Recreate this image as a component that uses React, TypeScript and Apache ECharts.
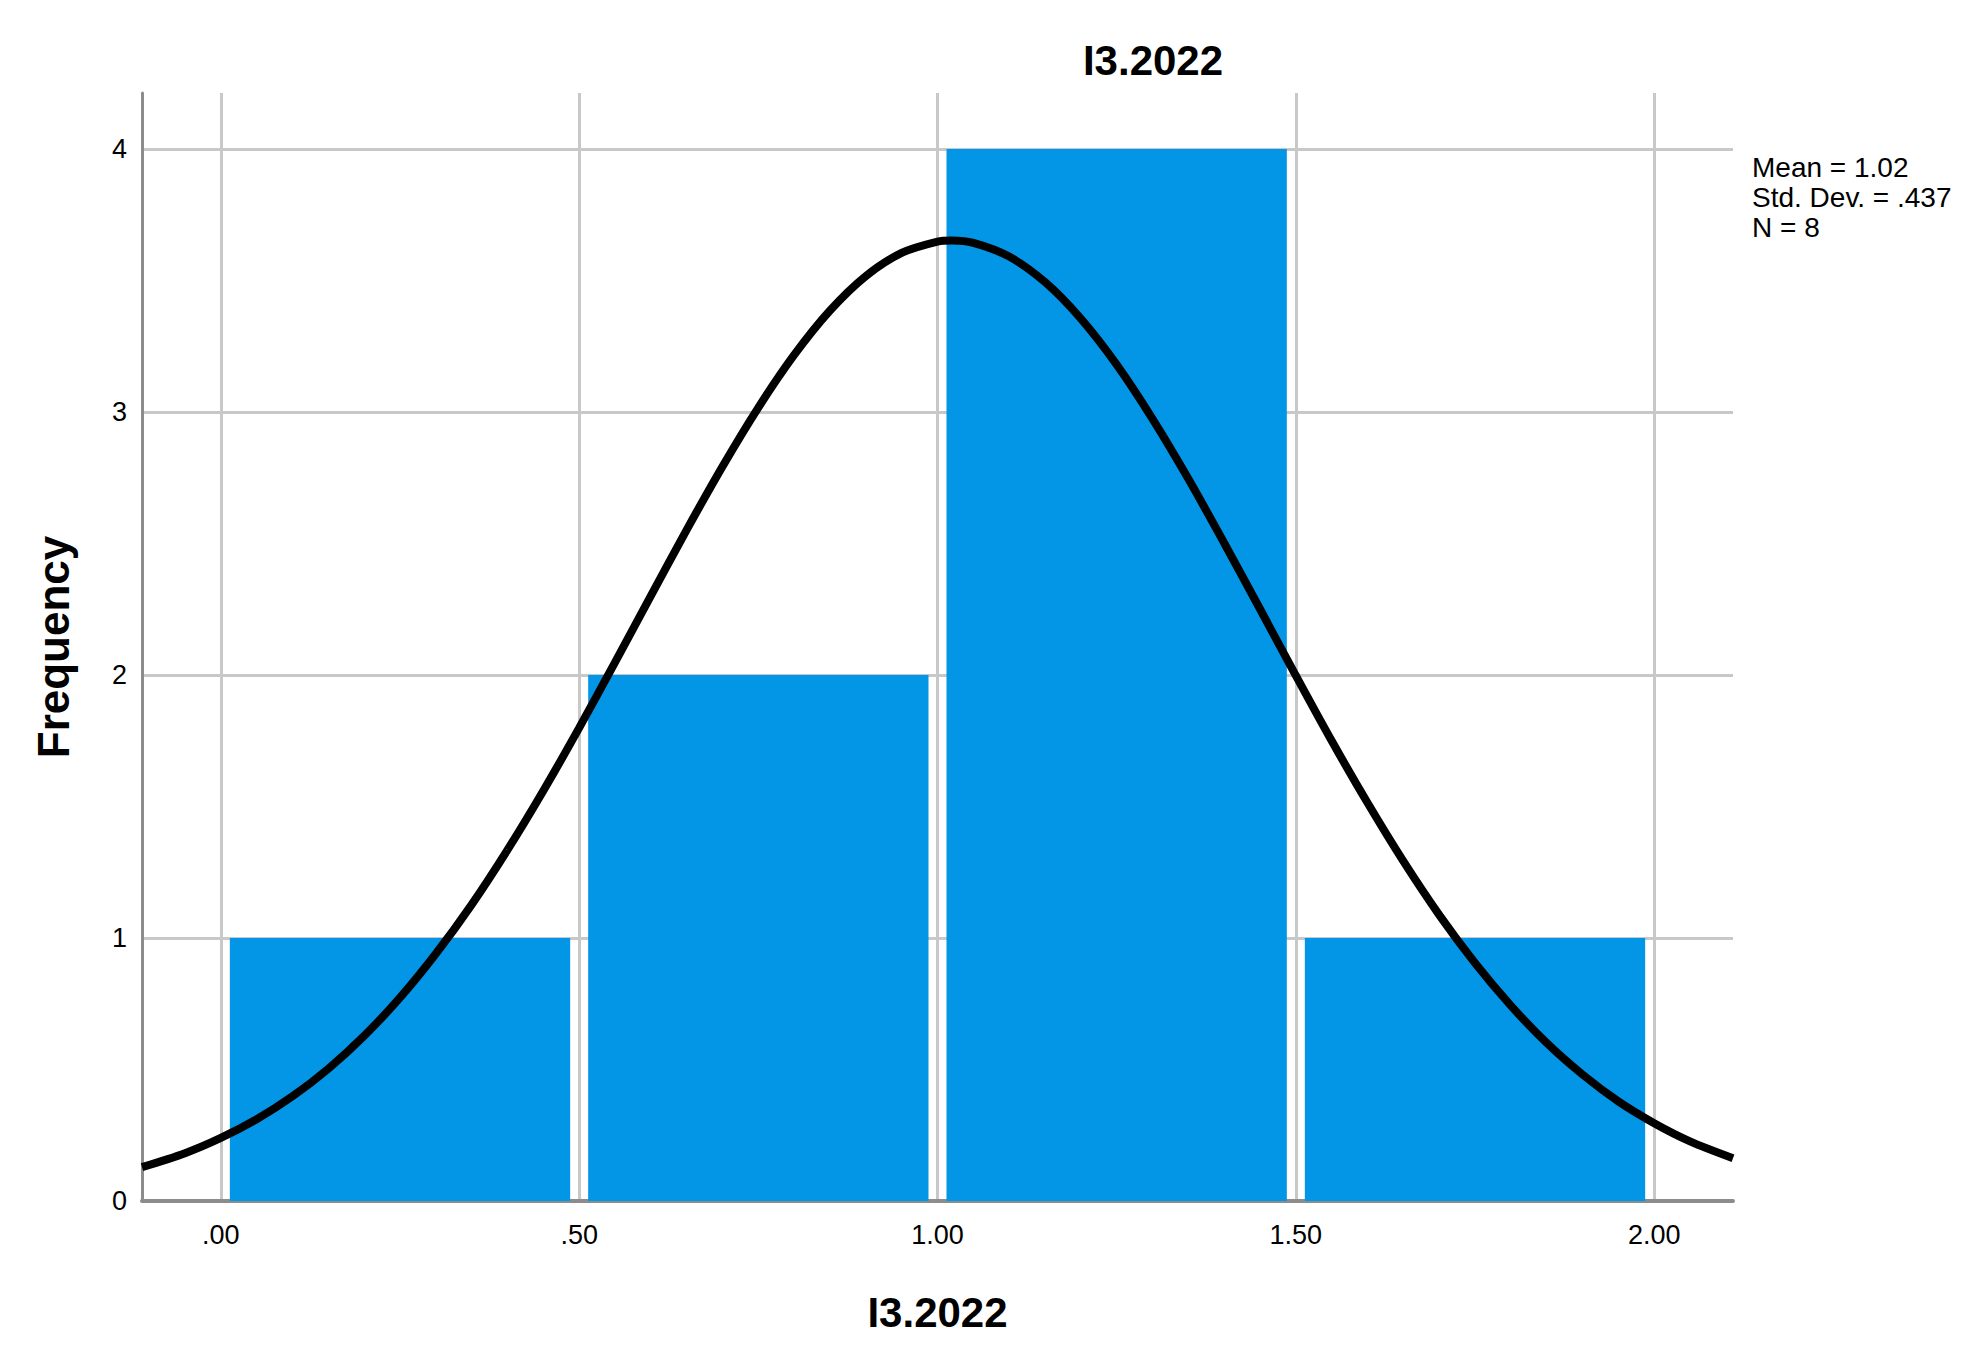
import * as echarts from "echarts";
import { useEffect, useRef } from "react";

const title = "I3.2022";
const binStarts = [0, 0.5, 1.0, 1.5];
const binEnds = [0.5, 1.0, 1.5, 2.0];
const frequencies = [1, 2, 4, 1];

const xTickValues = [0, 0.5, 1.0, 1.5, 2.0];
const xTickLabels = [".00", ".50", "1.00", "1.50", "2.00"];
const yTickValues = [0, 1, 2, 3, 4];

// normal curve
const curveX = [
  -0.11, -0.05, 0, 0.05, 0.1, 0.15, 0.2, 0.25, 0.3, 0.35, 0.4, 0.45, 0.5, 0.55, 0.6, 0.65, 0.7, 0.75,
  0.8, 0.85, 0.9, 0.95, 1.0, 1.02, 1.05, 1.1, 1.15, 1.2, 1.25, 1.3, 1.35, 1.4, 1.45, 1.5, 1.55, 1.6, 1.65,
  1.7, 1.75, 1.8, 1.85, 1.9, 1.95, 2.0, 2.05, 2.11,
];
const curveY = [
  0.129, 0.182, 0.24, 0.311, 0.398, 0.503, 0.628, 0.773, 0.94, 1.127, 1.335, 1.56, 1.799, 2.048, 2.301,
  2.552, 2.793, 3.017, 3.217, 3.386, 3.517, 3.605, 3.648, 3.652, 3.643, 3.591, 3.494, 3.355, 3.18, 2.974, 2.746,
  2.502, 2.251, 1.998, 1.75, 1.514, 1.292, 1.088, 0.905, 0.743, 0.601, 0.481, 0.379, 0.296, 0.227, 0.163,
];

const mean = "1.02";
const stdDev = ".437";
const n = "8";

const App = () => {
  const chartRef = useRef<HTMLDivElement>(null);

  useEffect(() => {
    document.body.style.margin = "0";
    document.body.style.overflow = "hidden";
    if (!chartRef.current) return;

    const myChart = echarts.init(chartRef.current, undefined, { renderer: "svg" });
    const font = "'Liberation Sans', Arial, sans-serif";
    const gridColor = "#c8c8c8";

    const option: echarts.EChartsCoreOption = {
      animation: false,
      backgroundColor: "#ffffff",
      title: {
        text: title,
        left: 1148,
        top: 34,
        textAlign: "center",
        textStyle: { fontFamily: font, fontSize: 42, fontWeight: "bold", color: "#000" },
      },
      grid: { left: 142, right: 250, top: 93, bottom: 163 },
      xAxis: {
        type: "value",
        min: -0.11,
        max: 2.11,
        name: title,
        nameLocation: "middle",
        nameGap: 90,
        nameTextStyle: { fontFamily: font, fontSize: 42, fontWeight: "bold", color: "#000" },
        axisLine: { show: true, lineStyle: { color: "#8c8c8c", width: 4 } },
        axisTick: { show: false, customValues: xTickValues },
        axisLabel: {
          customValues: xTickValues,
          margin: 20,
          fontFamily: font,
          fontSize: 27,
          color: "#000",
          formatter: (v: number) => xTickLabels[xTickValues.indexOf(v)] ?? "",
        },
        splitLine: { show: true, lineStyle: { color: gridColor, width: 3 } },
      },
      yAxis: {
        type: "value",
        min: 0,
        max: 4.213,
        name: "Frequency",
        nameLocation: "middle",
        nameRotate: 90,
        nameGap: 67,
        nameTextStyle: { fontFamily: font, fontSize: 44, fontWeight: "bold", color: "#000" },
        axisLine: { show: true, onZero: false, lineStyle: { color: "#8c8c8c", width: 3 } },
        axisTick: { show: false, customValues: yTickValues },
        axisLabel: {
          customValues: yTickValues,
          margin: 15,
          fontFamily: font,
          fontSize: 27,
          color: "#000",
        },
        splitLine: { show: true, lineStyle: { color: gridColor, width: 3 } },
      },
      graphic: [
        {
          type: "text",
          left: 1752,
          top: 152,
          style: {
            text: `Mean = ${mean}\nStd. Dev. = ${stdDev}\nN = ${n}`,
            font: `28px ${font}`,
            lineHeight: 30,
            fill: "#000",
          },
        },
      ],
      series: [
        {
          type: "custom",
          renderItem: (_params: any, api: any) => {
            const topLeft = api.coord([api.value(0), api.value(2)]);
            const bottomRight = api.coord([api.value(1), 0]);
            const gap = 9;
            return {
              type: "rect",
              shape: {
                x: topLeft[0] + gap,
                y: topLeft[1],
                width: bottomRight[0] - topLeft[0] - gap * 2,
                height: bottomRight[1] - topLeft[1],
              },
              style: { fill: "#0396e6" },
            };
          },
          encode: { x: [0, 1], y: 2 },
          data: binStarts.map((s, i) => [s, binEnds[i], frequencies[i]]),
          z: 2,
        },
        {
          type: "line",
          data: curveX.map((x, i) => [x, curveY[i]]),
          smooth: 0.3,
          showSymbol: false,
          lineStyle: { color: "#000", width: 8 },
          z: 3,
        },
      ],
    };

    myChart.setOption(option);

    return () => {
      myChart.dispose();
    };
  }, []);

  return <div ref={chartRef} style={{ width: "1983px", height: "1364px" }} />;
};

export default App;
